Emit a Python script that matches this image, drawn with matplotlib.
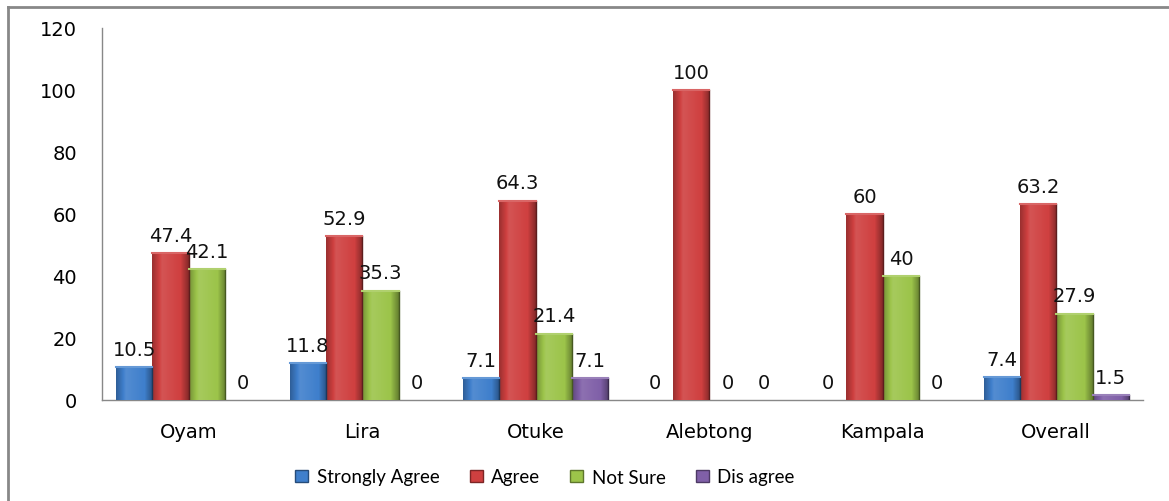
import numpy as np
import matplotlib
matplotlib.use("Agg")
import matplotlib.pyplot as plt
from matplotlib.colors import to_rgb
from matplotlib.patches import Patch

categories = ["Oyam", "Lira", "Otuke", "Alebtong", "Kampala", "Overall"]
strongly_agree = [10.5, 11.8, 7.1, 0, 0, 7.4]
agree = [47.4, 52.9, 64.3, 100, 60, 63.2]
not_sure = [42.1, 35.3, 21.4, 0, 40, 27.9]
dis_agree = [0, 0, 7.1, 0, 0, 1.5]
series_names = ["Strongly Agree", "Agree", "Not Sure", "Dis agree"]
yticks = [0, 20, 40, 60, 80, 100, 120]

colors = ["#3f7fcc", "#cf4040", "#9cc44a", "#8060a8"]
series = [strongly_agree, agree, not_sure, dis_agree]

fig = plt.figure(figsize=(11.69, 5.02), dpi=100)
ax = fig.add_axes([102/1169, 1-401/502, (1143-102)/1169, (401-29)/502])

x = np.arange(len(categories))
w = 0.209
offsets = [-1.5, -0.5, 0.5, 1.5]
FS = 14


def shade(c, f):
    c = np.array(to_rgb(c))
    if f >= 1:
        return np.clip(c + (1 - c) * (f - 1), 0, 1)
    return c * f

for vals, off, col, name in zip(series, offsets, colors, series_names):
    bars = ax.bar(x + off * w, vals, width=w, color=col, edgecolor="none",
                  label=name, zorder=2)
    ramp = np.concatenate([np.linspace(0.75, 1.1, 12), np.linspace(1.1, 1.0, 20),
                           np.linspace(1.0, 0.65, 10)])
    grad = np.array([shade(col, f) for f in ramp])[None, :, :]
    for b in bars:
        h = b.get_height()
        x0 = b.get_x()
        if h <= 0:
            continue
        ax.imshow(grad, extent=[x0, x0 + b.get_width(), 0, h], aspect="auto",
                  zorder=3, interpolation="bilinear")
        ax.plot([x0 + b.get_width()] * 2, [0, h], color=shade(col, 0.45), lw=1.0, zorder=4)
        ax.plot([x0, x0 + b.get_width()], [h, h], color=shade(col, 1.2), lw=1.5, zorder=4)
    for xi, v in zip(x + off * w, vals):
        ax.annotate(f"{v:g}", (xi, v), xytext=(0, 6), textcoords="offset points",
                    ha="center", va="bottom", fontsize=FS, color="#111111",
                    family="DejaVu Sans", zorder=5)

ax.set_xlim(-0.5, len(categories) - 0.5)
ax.set_ylim(0, 120)
ax.set_yticks(yticks)
ax.set_yticklabels([str(t) for t in yticks], fontsize=FS, family="DejaVu Sans")
ax.set_xticks(x)
ax.set_xticklabels(categories, fontsize=FS, family="DejaVu Sans")
ax.tick_params(axis="y", length=0, pad=18)
ax.tick_params(axis="x", length=0, pad=16)
for s in ["top", "right"]:
    ax.spines[s].set_visible(False)
ax.spines["left"].set_color("#888888")
ax.spines["bottom"].set_color("#888888")
ax.spines["left"].set_linewidth(1.0)
ax.spines["bottom"].set_linewidth(1.0)

handles = [Patch(facecolor=c, edgecolor=shade(c, 0.6), label=n) for c, n in zip(colors, series_names)]
fig.legend(handles=handles, loc="center", bbox_to_anchor=(545/1169, 1-478/502), ncol=4,
           frameon=False, prop={"family": "Lato", "size": 13.5}, handlelength=0.7,
           handleheight=0.65, handletextpad=0.45, columnspacing=1.6)

# outer chart border (cropped at right and bottom)
fig.add_artist(plt.Line2D([8/1169, 8/1169], [0, 1-8/502], transform=fig.transFigure,
                          color="#888888", lw=2))
fig.add_artist(plt.Line2D([8/1169, 1], [1-8/502, 1-8/502], transform=fig.transFigure,
                          color="#888888", lw=2))
# clipped fragment of a title above the image
fig.text(414/1169, 1 + 4/502, "y", ha="center", va="baseline", fontsize=13, color="#111111")

fig.savefig("out.png", dpi=100)
